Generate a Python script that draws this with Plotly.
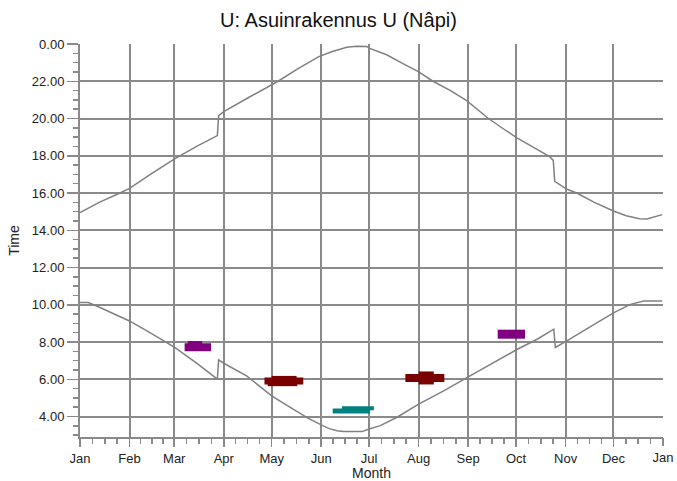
import plotly.graph_objects as go

# ---- data ----
month_labels = ["Jan", "Feb", "Mar", "Apr", "May", "Jun", "Jul", "Aug", "Sep", "Oct", "Nov", "Dec"]
month_start_day = [0, 31, 59, 90, 120, 151, 181, 212, 243, 273, 304, 334]
year_end_day = 365
year_end_label = "Jan"

y_tick_hours = [4, 6, 8, 10, 12, 14, 16, 18, 20, 22, 24]
y_tick_labels = ["4.00", "6.00", "8.00", "10.00", "12.00", "14.00", "16.00", "18.00", "20.00", "22.00", "0.00"]

# upper curve (evening)
upper_day = [0, 12, 25, 31, 45, 59.5, 73, 86, 86.8, 90, 105, 120, 124, 136, 149.5, 158, 167, 173, 179.5,
             181, 192, 201, 211.8, 221, 232, 242.3, 255.7, 265, 273.8, 284, 294, 296.3, 297.2, 304.9,
             311, 322, 334.3, 342, 350.3, 355, 358.7, 362.9, 364.5]
upper_hour = [14.95, 15.5, 16.0, 16.25, 17.05, 17.85, 18.5, 19.08, 20.15, 20.37, 21.1, 21.8, 22.0, 22.65, 23.32,
              23.6, 23.82, 23.88, 23.87, 23.78, 23.42, 23.0, 22.52, 22.0, 21.5, 20.95, 20.0, 19.45, 18.95, 18.45,
              17.95, 17.75, 16.63, 16.2, 16.0, 15.5, 15.02, 14.78, 14.62, 14.6, 14.7, 14.82, 14.84]

# lower curve (morning)
lower_day = [0, 5.2, 12.5, 31, 43.8, 59.5, 73, 86, 86.8, 90, 104.3, 120, 133.4, 143, 151, 156, 160.9,
             165, 176.6, 181, 188, 198.5, 212, 227.7, 242.5, 256.9, 273.8, 286.2, 296.6, 297.6,
             304.8, 319.6, 334.3, 344.6, 353, 364.5]
lower_hour = [10.12, 10.12, 9.85, 9.13, 8.5, 7.7, 6.87, 6.01, 7.04, 6.86, 6.18, 5.11, 4.4, 3.9, 3.55, 3.35, 3.24,
              3.19, 3.19, 3.33, 3.51, 3.96, 4.67, 5.38, 6.1, 6.81, 7.61, 8.15, 8.69, 7.71,
              8.06, 8.83, 9.58, 10.02, 10.2, 10.2]

# highlighted periods: start day, end day, hour, group
blob_start = [65.5, 67.5, 115.5, 120.0, 117.5, 164.0, 158.2, 203.7, 212.0, 261.5]
blob_end = [82.0, 76.5, 139.8, 135.6, 136.0, 184.0, 181.6, 228.1, 221.5, 278.6]
blob_hour = [7.72, 7.97, 5.90, 6.10, 5.71, 4.45, 4.30, 6.07, 6.07, 8.42]
blob_group = ["p", "p", "r", "r", "r", "t", "t", "r", "r", "p"]
blob_weight = [8, 3, 7, 3, 3, 4, 5, 8, 13, 9]

# minor tick positions: quarters of each month
bounds = month_start_day + [year_end_day]
minor_days = []
for i in range(12):
    a, b = bounds[i], bounds[i + 1]
    for k in (1, 2, 3):
        minor_days.append(a + (b - a) * k / 4)

group_color = {"p": "#800080", "r": "#7a0000", "t": "#008080"}

fig = go.Figure()
curve_color = "#808080"
fig.add_trace(go.Scatter(x=upper_day, y=upper_hour, mode="lines",
                         line=dict(color=curve_color, width=1.5), showlegend=False, hoverinfo="skip"))
fig.add_trace(go.Scatter(x=lower_day, y=lower_hour, mode="lines",
                         line=dict(color=curve_color, width=1.5), showlegend=False, hoverinfo="skip"))

for s, e, h, g, w in zip(blob_start, blob_end, blob_hour, blob_group, blob_weight):
    fig.add_trace(go.Scatter(x=[s, e], y=[h, h], mode="lines",
                             line=dict(color=group_color[g], width=w), showlegend=False, hoverinfo="skip"))

# invisible trace to hold the overlay axis carrying the final "Jan" label
fig.add_trace(go.Scatter(x=[year_end_day], y=[y_tick_hours[0]], xaxis="x2", mode="markers",
                         marker=dict(opacity=0), showlegend=False, hoverinfo="skip"))

font_family = "Liberation Sans, Arial, sans-serif"
grid_color = "#8a8a8a"
text_color = "#222"

fig.update_layout(
    width=677, height=481,
    margin=dict(l=80, r=14, t=44, b=44),
    paper_bgcolor="white", plot_bgcolor="white",
    font=dict(family=font_family, size=13, color=text_color),
    title=dict(text="U: Asuinrakennus U (Nâpi)", x=0.5, xanchor="center",
               y=1 - 20 / 481, yanchor="middle", yref="container",
               font=dict(size=20, color="#111", family=font_family)),
    xaxis2=dict(overlaying="x", side="bottom", anchor="y", range=[0, year_end_day],
                tickmode="array", tickvals=[year_end_day], ticktext=[year_end_label],
                showgrid=False, zeroline=False, showline=False,
                ticks="outside", ticklen=8, tickcolor=grid_color, tickwidth=1.5,
                tickfont=dict(size=13, color=text_color), automargin=False),
)

fig.layout.xaxis.update(
    range=[0, year_end_day], tickmode="array", tickvals=month_start_day, ticktext=month_labels,
    showgrid=True, gridcolor=grid_color, gridwidth=2, zeroline=False,
    showline=True, linecolor=grid_color, linewidth=2,
    ticks="outside", ticklen=8, tickcolor=grid_color, tickwidth=1.5,
    minor=dict(tickmode="array", tickvals=minor_days, ticks="outside", ticklen=5,
               tickcolor=grid_color, tickwidth=1.5, showgrid=False),
    tickfont=dict(size=13, color=text_color), automargin=False,
    title=dict(text="Month", standoff=0, font=dict(size=14, color=text_color)),
)
fig.layout.yaxis.update(
    range=[2.9, 24], tickmode="array", tickvals=y_tick_hours, ticktext=y_tick_labels,
    showgrid=True, gridcolor=grid_color, gridwidth=2, zeroline=False,
    showline=True, linecolor=grid_color, linewidth=2,
    ticks="outside", ticklen=11, tickcolor=grid_color, tickwidth=1.5,
    minor=dict(dtick=0.5, tick0=0, ticks="outside", ticklen=5,
               tickcolor=grid_color, tickwidth=1.5, showgrid=False),
    tickfont=dict(size=13, color=text_color), automargin=False,
    title=dict(text="Time", standoff=9, font=dict(size=14, color=text_color)),
)

fig.write_html("out.html", config={"displayModeBar": False, "staticPlot": True},
               post_script="document.body.style.margin='0';document.body.style.overflow='hidden';")
